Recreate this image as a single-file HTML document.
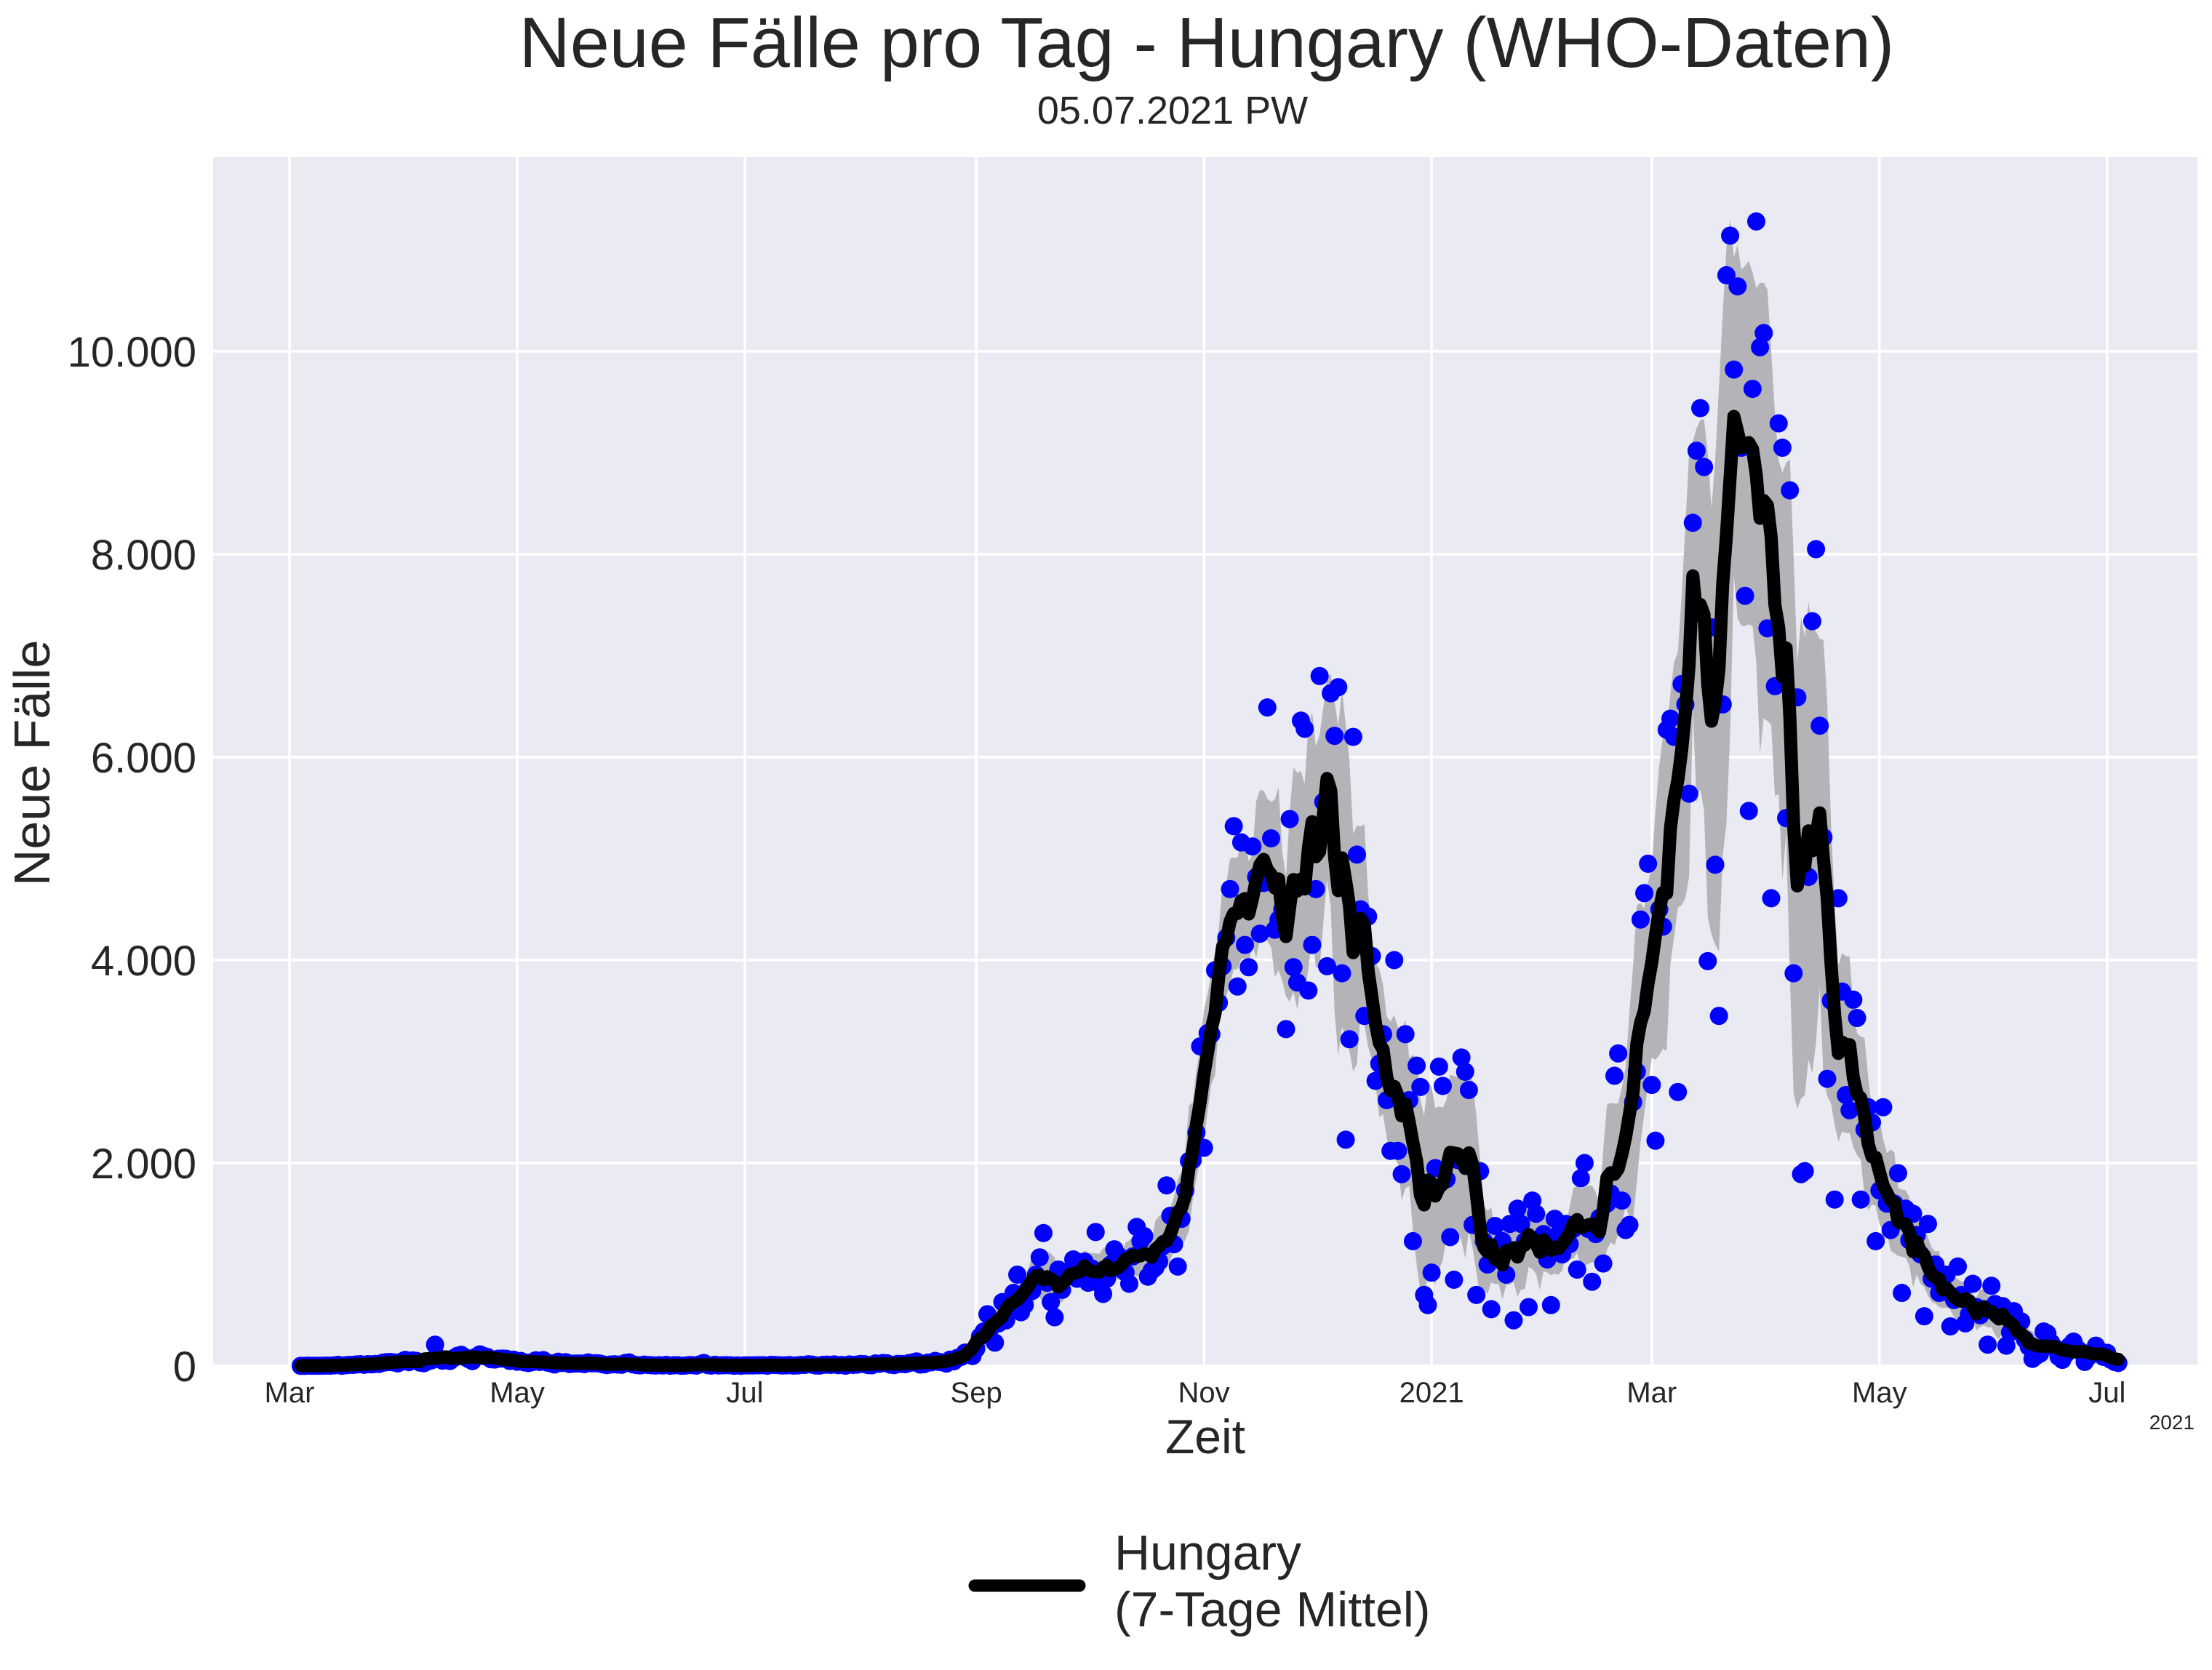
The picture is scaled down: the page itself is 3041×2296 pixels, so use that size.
<!DOCTYPE html>
<html><head><meta charset="utf-8">
<style>
html,body{margin:0;padding:0;background:#fff;}
svg{display:block;font-family:"Liberation Sans",Arial,sans-serif;}
</style></head>
<body>
<svg id="chart" width="3041" height="2296" viewBox="0 0 3041 2296" xmlns="http://www.w3.org/2000/svg">
  <rect x="0" y="0" width="3041" height="2296" fill="#ffffff"/>
  <text x="1659" y="92" font-size="97" text-anchor="middle" fill="#262626">Neue Fälle pro Tag - Hungary (WHO-Daten)</text>
  <text x="1612" y="170" font-size="54" text-anchor="middle" fill="#262626">05.07.2021 PW</text>
  <rect x="293" y="216" width="2728" height="1662" fill="#eaeaf2"/>
  <g id="grid"></g>
  <g id="band"></g>
  <g id="dots"></g>
  <g id="line"></g>
  <g id="xticks"></g>
  <g id="yticks"></g>
  <text x="3017" y="1965" font-size="28" text-anchor="end" fill="#262626">2021</text>
  <text x="1657" y="1998" font-size="66" text-anchor="middle" fill="#262626">Zeit</text>
  <text transform="translate(68,1049) rotate(-90)" font-size="70" text-anchor="middle" fill="#262626">Neue Fälle</text>
  <g>
    <line x1="1340" y1="2180" x2="1484" y2="2180" stroke="#000" stroke-width="17" stroke-linecap="round"/>
    <text x="1532" y="2158" font-size="68" fill="#262626">Hungary</text>
    <text x="1532" y="2236" font-size="68" fill="#262626">(7-Tage Mittel)</text>
  </g>
</svg>
<script>
const startDay = 3;
const dailyCases = [
1,1,3,2,2,2,3,
4,3,6,11,2,7,11,
11,15,18,12,18,16,20,
20,32,38,39,35,25,43,
60,38,55,50,33,27,45,
55,210,80,52,57,49,78,
100,110,87,67,48,91,114,
99,89,66,64,72,73,72,
50,62,42,49,35,29,38,
56,40,58,34,26,15,42,
30,38,19,23,24,24,18,
35,26,27,25,16,9,14,
17,14,12,30,35,16,9,
6,13,10,7,5,8,5,
11,3,7,8,2,4,9,
8,4,17,30,9,4,12,
5,7,8,7,3,5,2,
6,6,5,7,7,8,3,
11,10,8,5,6,9,4,
5,10,10,17,13,5,4,
12,13,11,15,8,10,3,
15,11,13,20,18,9,7,
25,21,30,27,13,8,21,
20,17,29,35,45,14,17,
33,36,50,40,35,24,62,
46,80,90,132,120,98,170,
290,340,510,380,230,420,630,
450,580,720,900,530,600,770,
740,900,1070,1310,820,630,480,
950,750,880,940,1050,860,870,
1030,820,960,1320,810,710,860,
1000,1150,1090,950,920,810,1080,
1370,1230,1280,880,940,970,1030,
1180,1780,1480,1200,980,1450,1730,
2020,2030,2300,3150,2150,3280,3270,
3900,3580,3940,4220,4700,5320,3740,
5160,4150,3930,5120,4820,4260,4760,
6490,5200,4300,4400,4500,3320,5390,
3930,3780,6360,6280,3700,4150,4700,
6800,5560,3940,6630,6210,6690,3870,
2230,3220,6200,5040,4500,3450,4430,
4040,2810,2980,3270,2620,2120,4000,
2120,1890,3270,2620,1230,2960,2750,
700,600,920,1950,2950,2760,1840,
1270,850,2030,3040,2900,2720,1390,
700,1920,1230,1000,560,1380,1050,
1230,900,1400,450,1550,1400,1230,
580,1630,1500,1180,1300,1050,600,
1450,1300,1100,1400,1200,1350,950,
1850,2000,1350,830,1300,1460,1010,
1600,1700,2860,3080,1630,1340,1390,
2600,2900,4400,4660,4950,2770,2220,
4500,4330,6270,6380,6200,2700,6720,
6520,5640,8310,9020,9440,8860,3990,
7280,4940,3450,6520,10750,11140,9820,
10640,9050,7590,5470,9630,11280,10040,
10180,7270,4610,6700,9290,9050,5400,
8630,3870,6590,1890,1920,4820,7340,
8050,6310,5210,2830,3600,1640,4610,
3690,2670,2520,3610,3430,1640,2330,
2550,2400,1230,1730,2550,1600,1340,
1600,1900,720,1550,1240,1500,1290,
1100,490,1400,860,1000,720,730,
900,390,650,980,700,420,510,
810,580,500,560,210,790,610,
510,590,200,330,540,400,440,
260,190,70,100,120,340,320,
230,180,90,60,120,200,240,
170,140,40,90,120,200,150,
90,130,60,40,30
];
const monthTickDays = [0,61,122,184,245,306,365,426,487];
const monthTickLabels = ["Mar","May","Jul","Sep","Nov","2021","Mar","May","Jul"];
const yTickValues = [0,2000,4000,6000,8000,10000];
const yTickLabels = ["0","2.000","4.000","6.000","8.000","10.000"];

const NS = "http://www.w3.org/2000/svg";
const X0 = 398, PX_PER_DAY = 5.131;
const Y0 = 1878, PX_PER_CASE = 279/2000;
function xScale(d){ return X0 + d*PX_PER_DAY; }
function yScale(v){ return Y0 - v*PX_PER_CASE; }
function mk(tag, attrs){ const e=document.createElementNS(NS,tag); for(const k in attrs) e.setAttribute(k,attrs[k]); return e; }

const grid=document.getElementById('grid');
monthTickDays.forEach(d=>{
  const l=mk('line',{x1:xScale(d),x2:xScale(d),y1:216,y2:1878,stroke:'#ffffff','stroke-width':3.5});
  
  
  grid.appendChild(l);
});
yTickValues.forEach(v=>{
  const l=mk('line',{x1:293,x2:3021,y1:yScale(v),y2:yScale(v),stroke:'#ffffff','stroke-width':3.5});
  
  
  grid.appendChild(l);
});

const xt=document.getElementById('xticks');
monthTickDays.forEach((d,i)=>{
  const t=mk('text',{x:xScale(d),y:1928,'font-size':40,'text-anchor':'middle',fill:'#262626'});
  t.textContent=monthTickLabels[i];
  
  
  xt.appendChild(t);
});
const yt=document.getElementById('yticks');
yTickValues.forEach((v,i)=>{
  const t=mk('text',{x:270,y:yScale(v)+21,'font-size':58,'text-anchor':'end',fill:'#262626'});
  t.textContent=yTickLabels[i];
  
  
  yt.appendChild(t);
});

const n=dailyCases.length, mean=[], sd=[];
for(let i=0;i<n;i++){
  const a=Math.max(0,i-3), b=Math.min(n-1,i+3); let s=0,c=0;
  for(let j=a;j<=b;j++){s+=dailyCases[j];c++;}
  const m=s/c; let q=0;
  for(let j=a;j<=b;j++){q+=(dailyCases[j]-m)*(dailyCases[j]-m);}
  mean.push(m); sd.push(c>1?Math.sqrt(q/(c-1)):0);
}
let up=[],lo=[];
for(let i=0;i<n;i++){
  const x=xScale(startDay+i);
  up.push(x.toFixed(1)+','+yScale(mean[i]+0.9*sd[i]).toFixed(1));
  lo.unshift(x.toFixed(1)+','+yScale(Math.max(0,mean[i]-0.9*sd[i])).toFixed(1));
}
const band=mk('polygon',{points:up.concat(lo).join(' '),fill:'#b4b4b8'});


document.getElementById('band').appendChild(band);

const dots=document.getElementById('dots');
dailyCases.forEach((v,i)=>{
  const c=mk('circle',{cx:xScale(startDay+i),cy:yScale(v),r:12.5,fill:'#0000ff'});
  
  
  dots.appendChild(c);
});

const pts=mean.map((m,i)=>xScale(startDay+i).toFixed(1)+','+yScale(m).toFixed(1)).join(' ');
const pl=mk('polyline',{points:pts,fill:'none',stroke:'#000000','stroke-width':18,'stroke-linejoin':'round','stroke-linecap':'round'});


document.getElementById('line').appendChild(pl);
</script>
</body></html>
